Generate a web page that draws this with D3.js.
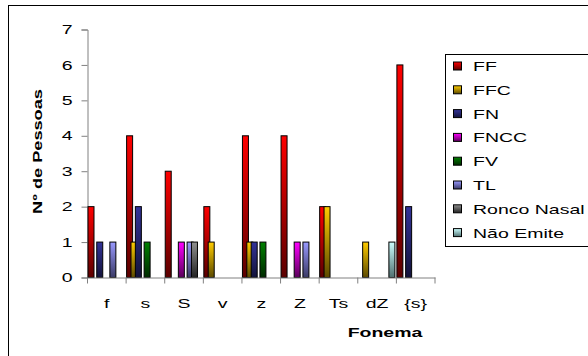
<!DOCTYPE html>
<html lang="en">
<head>
  <meta charset="UTF-8">
  <title>Fonema chart</title>
  <script src="https://d3js.org/d3.v7.min.js"></script>
  <style>
    body { margin: 0; background: #fff; }
    text { font-family: "Liberation Sans", Arial, sans-serif; fill: #000; }
    .tick text { font-size: 13px; }
    .axis-title { font-size: 13px; font-weight: bold; }
    .legend text { font-size: 13px; }
  </style>
</head>
<body>
  <div id="chart"></div>
  <script>
    // data
    const categories = ["f", "s", "S", "v", "z", "Z", "Ts", "dZ", "{s}"];
    const seriesNames = ["FF", "FFC", "FN", "FNCC", "FV", "TL", "Ronco Nasal", "Não Emite"];
    const FF     = [2, 4, 3, 2, 4, 4, 2, 0, 6];
    const FFC    = [0, 1, 0, 1, 1, 0, 2, 1, 0];
    const FN     = [1, 2, 0, 0, 1, 0, 0, 0, 2];
    const FNCC   = [0, 0, 1, 0, 0, 1, 0, 0, 0];
    const FV     = [0, 1, 0, 0, 1, 0, 0, 0, 0];
    const TL     = [1, 0, 1, 0, 0, 1, 0, 0, 0];
    const ronco  = [0, 0, 1, 0, 0, 0, 0, 0, 0];
    const naoEmite = [0, 0, 0, 0, 0, 0, 0, 1, 0];
    const yTicks = [0, 1, 2, 3, 4, 5, 6, 7];

    const seriesValues = [FF, FFC, FN, FNCC, FV, TL, ronco, naoEmite];
    const topColors = ["#ff0000", "#ffcc00", "#333399", "#ff00ff", "#008000", "#9999ff", "#909090", "#ccffff"];
    const botColors = ["#5a0000", "#5c4a00", "#13133a", "#5a005a", "#002a00", "#3a3a66", "#222222", "#507070"];

    const width = 588, height = 356;
    const sx = 1.5; // the text in the picture is drawn wide

    const svg = d3.select("#chart").append("svg")
      .attr("width", width).attr("height", height);

    // gradients
    const defs = svg.append("defs");
    seriesNames.forEach((s, i) => {
      const g = defs.append("linearGradient").attr("id", "g" + i)
        .attr("x1", 0).attr("y1", 0).attr("x2", 0).attr("y2", 1);
      g.append("stop").attr("offset", "0%").attr("stop-color", topColors[i]);
      g.append("stop").attr("offset", "100%").attr("stop-color", botColors[i]);
    });

    // outer frame (only top/left show)
    svg.append("rect")
      .attr("x", 8.5).attr("y", 5.5).attr("width", 600).attr("height", 400)
      .attr("fill", "none").attr("stroke", "#000");

    const x0 = d3.scaleBand().domain(categories).range([87.5, 435]).padding(0);
    const barW = 6;
    const x1 = d3.scalePoint().domain(seriesNames)
      .range([0.5, x0.bandwidth() - barW - 1.5]);
    const y = d3.scaleLinear().domain([0, 7]).range([277.5, 29.5]);

    // y axis
    const yAxis = svg.append("g")
      .attr("transform", "translate(87.5,0)")
      .call(d3.axisLeft(y).tickValues(yTicks).tickFormat(d3.format("d")).tickSize(6).tickPadding(15));
    yAxis.select(".domain").attr("stroke", "#808080");
    yAxis.selectAll(".tick line").attr("stroke", "#808080");
    yAxis.selectAll(".tick text")
      .attr("x", -15 / sx)
      .attr("transform", `scale(${sx},1)`);

    // bars, series by series so later ones sit on top
    seriesNames.forEach((s, i) => {
      svg.append("g").selectAll("rect")
        .data(categories.map((c, j) => ({ c, v: seriesValues[i][j] })).filter(d => d.v > 0))
        .join("rect")
        .attr("x", d => x0(d.c) + x1(s))
        .attr("y", d => y(d.v))
        .attr("width", barW)
        .attr("height", d => y(0) - y(d.v))
        .attr("fill", `url(#g${i})`)
        .attr("stroke", "#000")
        .attr("stroke-width", 1);
    });

    // x axis
    const xAxis = svg.append("g")
      .attr("transform", "translate(0,277.5)")
      .call(d3.axisBottom(x0).tickSize(0).tickPadding(21));
    xAxis.select(".domain").attr("stroke", "#808080");
    xAxis.selectAll(".tick line").remove();
    xAxis.selectAll(".tick text").attr("transform", `scale(${sx},1)`);
    xAxis.selectAll(".sep")
      .data(categories.map(c => x0(c)).concat([x0.range()[1]]))
      .join("line")
      .attr("x1", d => d).attr("x2", d => d)
      .attr("y1", 0).attr("y2", 6)
      .attr("stroke", "#808080");

    // axis titles
    svg.append("text").attr("class", "axis-title")
      .attr("transform", `translate(42,151.5) rotate(-90) scale(1.4,1)`)
      .attr("text-anchor", "middle")
      .text("Nº de Pessoas");
    svg.append("text").attr("class", "axis-title")
      .attr("transform", `translate(385,337) scale(${sx},1)`)
      .attr("text-anchor", "middle")
      .text("Fonema");

    // legend
    const legend = svg.append("g").attr("class", "legend");
    legend.append("rect")
      .attr("x", 445.5).attr("y", 54.5).attr("width", 160).attr("height", 192)
      .attr("fill", "#fff").attr("stroke", "#000");
    const item = legend.selectAll(".item").data(seriesNames).join("g")
      .attr("transform", (d, i) => `translate(453,${66.5 + i * 23.8})`);
    item.append("rect")
      .attr("x", 0.5).attr("y", -4.5).attr("width", 8).attr("height", 8)
      .attr("fill", (d, i) => `url(#g${i})`).attr("stroke", "#000");
    item.append("text")
      .attr("transform", `translate(20,4.5) scale(${sx},1)`)
      .text(d => d);
  </script>
</body>
</html>
